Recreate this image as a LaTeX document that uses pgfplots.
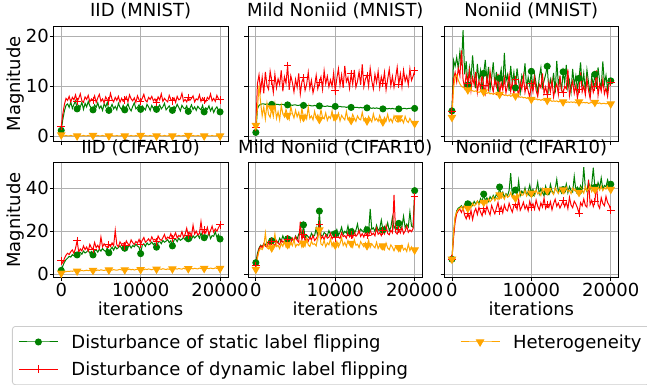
\documentclass[border=0pt]{standalone}
\usepackage{pgfplots}
\pgfplotsset{compat=1.18}
\usepackage{pgfplotstable}
\usepackage{fontspec}
\setmainfont{DejaVu Sans}
\definecolor{mgreen}{HTML}{008000}
\definecolor{morange}{HTML}{FFA500}
\definecolor{gridgray}{HTML}{B0B0B0}
\definecolor{legendgray}{HTML}{CCCCCC}
\newcommand{\fs}{\fontsize{18bp}{21.6bp}\selectfont}

% ---------- IID (MNIST)
\pgfplotstableread[row sep=\\]{y\\
1.2\\3.4\\5.1\\6.2\\6.5\\5.8\\6.9\\5.6\\6.4\\7.1\\
5.5\\6.2\\5.9\\6.8\\5.4\\6.6\\5.9\\7.0\\6.1\\5.7\\
5.3\\6.3\\5.8\\6.7\\5.6\\6.1\\5.2\\6.5\\5.9\\6.8\\
5.2\\5.7\\6.4\\5.5\\6.0\\5.3\\6.6\\5.8\\5.4\\6.2\\
5.3\\5.9\\6.5\\5.6\\5.1\\6.0\\6.7\\5.5\\5.8\\6.3\\
5.4\\6.1\\5.7\\5.3\\6.4\\5.9\\5.2\\6.2\\5.6\\6.0\\
5.4\\5.8\\6.3\\5.5\\5.9\\6.6\\5.3\\5.7\\6.1\\5.4\\
5.2\\6.0\\5.6\\6.4\\5.8\\5.1\\6.2\\5.7\\5.5\\6.1\\
5.0\\5.6\\6.3\\5.4\\5.9\\5.2\\6.0\\5.6\\5.3\\6.2\\
4.9\\5.7\\5.4\\6.1\\5.1\\5.8\\4.8\\5.5\\5.9\\5.2\\
4.9\\}\aS
\pgfplotstableread[row sep=\\]{y\\
2.0\\4.5\\6.4\\7.6\\7.2\\8.0\\6.9\\7.8\\7.3\\8.3\\
7.0\\7.6\\8.5\\7.1\\6.8\\7.9\\7.4\\8.2\\6.9\\7.5\\
7.2\\8.1\\6.8\\7.7\\8.4\\7.0\\7.5\\6.7\\7.9\\7.3\\
7.1\\8.6\\7.4\\6.9\\7.8\\7.2\\8.0\\6.8\\7.6\\7.0\\
7.3\\7.9\\6.9\\8.3\\7.5\\7.1\\7.7\\6.8\\8.1\\7.3\\
7.0\\7.6\\8.4\\7.2\\6.9\\7.8\\7.4\\8.0\\7.1\\7.5\\
6.8\\7.9\\7.3\\8.5\\7.0\\7.6\\7.2\\6.9\\8.2\\7.4\\
7.1\\7.7\\6.8\\8.0\\7.3\\7.5\\8.6\\7.0\\7.4\\6.9\\
7.8\\7.2\\7.6\\8.1\\6.9\\7.5\\7.3\\8.3\\7.0\\7.7\\
7.2\\6.9\\7.8\\7.4\\8.5\\7.1\\7.6\\7.0\\8.2\\7.5\\
7.3\\}\aD
\pgfplotstableread[row sep=\\]{y\\
0.3\\0.2\\0.1\\0.2\\0.1\\0.1\\0.2\\0.1\\0.1\\0.2\\
0.1\\0.2\\0.1\\0.1\\0.2\\0.1\\0.1\\0.2\\0.1\\0.1\\
0.2\\0.1\\0.1\\0.2\\0.1\\0.1\\0.2\\0.1\\0.1\\0.2\\
0.1\\0.1\\0.2\\0.1\\0.1\\0.2\\0.1\\0.1\\0.2\\0.1\\
0.1\\0.2\\0.1\\0.1\\0.2\\0.1\\0.1\\0.2\\0.1\\0.1\\
0.2\\0.1\\0.1\\0.2\\0.1\\0.1\\0.2\\0.1\\0.1\\0.2\\
0.1\\0.1\\0.2\\0.1\\0.1\\0.2\\0.1\\0.1\\0.2\\0.1\\
0.1\\0.2\\0.1\\0.1\\0.2\\0.1\\0.1\\0.2\\0.1\\0.1\\
0.2\\0.1\\0.1\\0.2\\0.1\\0.1\\0.2\\0.1\\0.1\\0.2\\
0.1\\0.1\\0.2\\0.1\\0.1\\0.2\\0.1\\0.1\\0.2\\0.1\\
0.1\\}\aH

% ---------- Mild Noniid (MNIST)
\pgfplotstableread[row sep=\\]{y\\
0.8\\5.5\\6.2\\6.4\\6.5\\6.5\\6.4\\6.5\\6.4\\6.5\\
6.4\\6.4\\6.5\\6.4\\6.4\\6.3\\6.4\\6.4\\6.3\\6.4\\
6.3\\6.3\\6.3\\6.2\\6.3\\6.3\\6.2\\6.2\\6.3\\6.2\\
6.2\\6.2\\6.1\\6.2\\6.2\\6.1\\6.1\\6.2\\6.1\\6.1\\
6.1\\6.0\\6.1\\6.0\\6.0\\6.1\\6.0\\6.0\\5.9\\6.0\\
6.0\\5.9\\5.9\\6.0\\5.9\\5.9\\5.9\\5.8\\5.9\\5.8\\
5.8\\5.9\\5.8\\5.8\\5.8\\5.7\\5.8\\5.7\\5.8\\5.7\\
5.7\\5.7\\5.7\\5.6\\5.7\\5.6\\5.7\\5.6\\5.6\\5.7\\
5.5\\5.6\\5.6\\5.5\\5.6\\5.5\\5.6\\5.5\\5.5\\5.6\\
5.5\\5.6\\5.5\\5.6\\5.6\\5.5\\5.6\\5.6\\5.7\\5.6\\
5.6\\}\bS
\pgfplotstableread[row sep=\\]{y\\
1.8\\10.5\\12.3\\9.1\\11.8\\8.6\\12.9\\10.2\\9.4\\13.0\\
11.1\\8.8\\12.4\\9.7\\11.5\\10.3\\13.2\\9.0\\11.9\\10.6\\
14.2\\9.3\\12.1\\10.8\\8.9\\11.4\\9.8\\12.6\\8.5\\10.9\\
11.7\\9.2\\10.4\\12.8\\9.6\\11.2\\8.7\\10.1\\12.2\\9.5\\
10.8\\11.9\\9.4\\13.1\\10.5\\12.0\\9.9\\11.3\\10.0\\12.7\\
9.1\\11.6\\13.5\\10.2\\12.3\\9.7\\14.1\\10.9\\11.8\\9.6\\
12.5\\10.4\\13.3\\9.8\\11.0\\12.9\\10.3\\14.4\\9.9\\11.5\\
12.2\\10.0\\13.6\\11.1\\9.5\\12.4\\10.7\\13.0\\9.7\\11.9\\
10.6\\12.8\\9.3\\11.4\\13.4\\10.1\\12.0\\9.8\\11.7\\13.8\\
10.4\\12.5\\9.9\\13.2\\11.0\\12.1\\10.3\\13.5\\11.2\\12.0\\
13.1\\}\bD
\pgfplotstableread[row sep=\\]{y\\
2.2\\5.5\\10.2\\6.8\\4.1\\5.9\\3.5\\6.6\\4.4\\3.8\\
5.7\\4.0\\6.5\\3.6\\4.9\\3.3\\6.2\\4.5\\3.9\\5.4\\
4.2\\3.4\\6.0\\4.6\\3.7\\5.2\\3.9\\4.8\\3.2\\5.6\\
3.8\\4.4\\3.5\\5.9\\3.6\\4.1\\3.3\\5.0\\3.7\\4.3\\
3.4\\5.3\\3.8\\3.5\\4.7\\3.2\\4.0\\3.6\\5.1\\3.3\\
3.9\\3.5\\4.6\\3.1\\4.2\\3.7\\3.3\\5.0\\3.4\\3.8\\
3.2\\4.4\\3.6\\3.0\\4.1\\3.5\\3.3\\4.8\\3.2\\3.7\\
3.1\\4.0\\3.4\\2.9\\4.5\\3.2\\3.6\\3.0\\4.2\\3.3\\
2.9\\3.8\\3.1\\4.4\\3.0\\3.5\\2.8\\4.1\\3.2\\2.9\\
3.7\\3.0\\3.4\\2.7\\4.0\\3.1\\2.8\\3.6\\3.0\\2.9\\
2.6\\}\bH

% ---------- Noniid (MNIST)
\pgfplotstableread[row sep=\\]{y\\
5.1\\15.2\\14.0\\15.8\\13.5\\16.9\\14.2\\21.2\\12.4\\15.0\\
10.3\\13.8\\11.5\\16.2\\12.0\\9.6\\14.5\\11.2\\13.1\\8.9\\
12.6\\15.3\\10.8\\13.9\\9.4\\11.7\\14.8\\10.2\\12.9\\8.4\\
11.6\\13.4\\9.8\\16.7\\11.0\\12.3\\9.1\\14.1\\10.5\\12.8\\
9.7\\13.6\\10.9\\8.8\\12.2\\11.3\\14.6\\9.5\\11.8\\10.1\\
13.0\\9.3\\12.5\\10.6\\8.7\\11.9\\13.7\\9.9\\11.1\\12.4\\
14.0\\9.2\\11.4\\10.0\\12.7\\8.6\\15.1\\10.4\\11.8\\9.0\\
12.9\\10.7\\14.3\\9.6\\11.2\\8.9\\13.5\\10.3\\12.1\\9.4\\
11.6\\14.8\\10.0\\12.6\\9.1\\13.3\\10.8\\8.5\\12.0\\10.2\\
12.4\\9.5\\13.8\\11.0\\9.7\\15.0\\10.5\\12.2\\9.3\\11.5\\
11.1\\}\cS
\pgfplotstableread[row sep=\\]{y\\
5.0\\11.5\\12.8\\10.9\\13.6\\12.1\\17.2\\11.3\\9.8\\12.4\\
10.6\\13.1\\9.2\\11.8\\10.3\\12.9\\8.8\\11.0\\9.7\\12.2\\
10.1\\8.6\\11.9\\9.5\\13.0\\10.4\\8.9\\11.3\\9.9\\12.5\\
8.4\\10.7\\9.3\\11.6\\8.7\\10.2\\12.3\\9.0\\10.8\\8.5\\
11.4\\9.6\\8.2\\10.9\\9.4\\12.0\\8.8\\10.3\\9.1\\7.8\\
10.6\\8.9\\11.7\\9.2\\8.0\\10.4\\9.7\\12.6\\8.6\\9.9\\
8.3\\10.8\\9.0\\11.2\\7.9\\9.6\\10.5\\8.4\\12.1\\9.3\\
8.7\\10.0\\9.5\\13.4\\8.1\\9.8\\11.0\\8.6\\10.2\\7.7\\
9.4\\12.8\\8.9\\10.1\\8.3\\11.5\\9.2\\7.6\\10.7\\8.8\\
9.9\\13.2\\8.2\\10.4\\9.0\\11.3\\8.5\\9.7\\8.0\\10.6\\
10.8\\}\cD
\pgfplotstableread[row sep=\\]{y\\
3.8\\9.5\\12.0\\12.3\\11.2\\10.5\\10.0\\9.8\\9.6\\9.4\\
9.3\\9.2\\9.3\\9.1\\9.0\\9.1\\8.9\\8.8\\9.0\\8.8\\
8.9\\8.7\\8.6\\8.8\\8.5\\8.6\\8.4\\8.6\\8.3\\8.5\\
8.4\\8.3\\8.4\\8.2\\8.3\\8.1\\8.3\\8.0\\8.2\\8.0\\
8.1\\7.9\\8.0\\7.8\\7.9\\7.7\\7.8\\7.6\\7.7\\7.5\\
7.4\\7.6\\7.4\\7.5\\7.3\\7.4\\7.2\\7.4\\7.2\\7.3\\
7.2\\7.1\\7.2\\7.0\\7.1\\7.0\\7.1\\6.9\\7.0\\6.9\\
6.9\\7.0\\6.8\\6.9\\6.8\\6.9\\6.8\\6.9\\6.7\\6.8\\
6.9\\6.8\\6.7\\6.8\\6.7\\6.8\\6.6\\6.7\\6.8\\6.6\\
6.8\\6.7\\6.6\\6.7\\6.5\\6.6\\6.6\\6.5\\6.6\\6.5\\
6.5\\}\cH

% ---------- IID (CIFAR10)
\pgfplotstableread[row sep=\\]{y\\
1.8\\3.9\\5.6\\6.8\\7.5\\8.3\\8.0\\9.1\\8.6\\9.4\\
9.0\\9.7\\10.2\\9.3\\10.8\\9.9\\10.4\\11.2\\9.8\\10.6\\
9.0\\10.9\\11.4\\10.3\\11.7\\10.8\\12.0\\11.1\\10.6\\12.3\\
10.0\\11.5\\12.6\\11.2\\12.9\\11.8\\12.4\\13.3\\11.9\\12.7\\
12.1\\13.0\\12.5\\13.6\\12.2\\13.4\\12.8\\14.0\\13.1\\12.6\\
9.6\\13.5\\14.2\\13.0\\14.6\\13.7\\14.1\\15.0\\13.8\\14.5\\
12.6\\14.8\\15.3\\14.2\\15.7\\14.9\\15.4\\16.1\\14.7\\15.6\\
13.2\\15.9\\16.4\\15.2\\16.8\\15.8\\16.3\\17.2\\16.0\\16.7\\
16.5\\17.4\\16.1\\17.9\\16.9\\17.6\\18.3\\16.8\\19.1\\17.5\\
17.0\\18.2\\17.3\\19.4\\16.6\\18.0\\17.7\\19.8\\17.2\\18.5\\
16.4\\}\dS
\pgfplotstableread[row sep=\\]{y\\
6.3\\5.2\\7.4\\8.9\\9.8\\9.2\\10.5\\11.3\\9.7\\12.1\\
15.6\\10.4\\11.8\\10.9\\13.2\\11.5\\12.7\\10.8\\13.9\\12.3\\
11.6\\14.8\\12.4\\13.5\\11.9\\17.3\\12.8\\14.2\\13.1\\12.5\\
13.8\\12.9\\14.6\\13.3\\20.4\\13.7\\12.8\\15.1\\13.9\\14.4\\
13.2\\15.5\\14.1\\13.6\\16.0\\14.7\\13.9\\15.3\\14.5\\16.2\\
14.0\\15.8\\17.1\\14.9\\15.6\\16.5\\15.2\\17.4\\15.9\\16.3\\
15.1\\17.8\\16.4\\15.7\\17.0\\18.5\\16.2\\17.3\\16.8\\18.9\\
16.6\\17.7\\19.3\\16.9\\18.1\\17.5\\19.8\\17.2\\18.6\\21.4\\
18.0\\19.5\\17.8\\22.8\\18.7\\20.1\\18.3\\19.0\\24.5\\18.9\\
20.6\\19.2\\21.8\\18.5\\20.3\\22.4\\19.6\\21.1\\20.0\\21.7\\
23.0\\}\dD
\pgfplotstableread[row sep=\\]{y\\
0.5\\0.9\\1.1\\1.2\\1.4\\1.3\\1.5\\1.4\\1.6\\1.5\\
1.5\\1.7\\1.6\\1.8\\1.6\\1.7\\1.9\\1.7\\1.8\\1.6\\
1.8\\1.9\\1.7\\2.0\\1.8\\2.1\\1.9\\1.8\\2.0\\1.9\\
2.0\\2.1\\1.9\\2.2\\2.0\\1.9\\2.1\\2.3\\2.0\\2.2\\
2.1\\2.0\\2.2\\2.4\\2.1\\2.3\\2.0\\2.2\\2.4\\2.1\\
2.2\\2.3\\2.1\\2.4\\2.2\\2.5\\2.3\\2.1\\2.4\\2.3\\
2.4\\2.2\\2.5\\2.3\\2.6\\2.4\\2.2\\2.5\\2.3\\2.6\\
2.5\\2.3\\2.6\\2.4\\2.7\\2.5\\2.4\\2.8\\2.5\\2.6\\
2.6\\2.4\\2.7\\2.5\\2.8\\2.6\\2.5\\2.9\\2.6\\2.7\\
2.7\\2.5\\2.8\\2.6\\2.9\\2.7\\2.6\\3.0\\2.7\\2.8\\
2.7\\}\dH

% ---------- Mild Noniid (CIFAR10)
\pgfplotstableread[row sep=\\]{y\\
5.4\\9.8\\12.2\\13.5\\12.8\\14.1\\13.6\\15.0\\14.4\\13.9\\
15.6\\14.8\\16.2\\15.1\\14.6\\16.8\\15.4\\17.9\\16.0\\15.3\\
16.5\\15.7\\17.2\\16.1\\15.5\\17.8\\16.4\\18.6\\20.2\\17.1\\
23.0\\16.9\\18.3\\17.4\\16.6\\19.1\\17.7\\18.0\\21.5\\17.3\\
29.4\\18.2\\17.6\\19.4\\18.8\\17.9\\20.3\\18.5\\19.7\\17.8\\
18.9\\20.8\\18.1\\19.5\\21.9\\18.6\\20.0\\19.2\\22.5\\18.7\\
19.8\\21.2\\19.0\\20.5\\23.4\\19.3\\21.0\\20.2\\19.6\\22.1\\
20.7\\19.4\\30.4\\20.9\\21.6\\19.9\\22.8\\20.4\\21.3\\25.2\\
20.6\\22.3\\21.1\\24.0\\20.3\\21.8\\26.5\\21.4\\22.6\\20.8\\
23.7\\21.5\\22.2\\27.0\\21.7\\23.3\\22.0\\29.0\\22.4\\21.9\\
38.9\\}\eS
\pgfplotstableread[row sep=\\]{y\\
3.9\\8.5\\11.6\\13.2\\12.4\\14.3\\13.1\\12.7\\14.8\\13.6\\
15.2\\14.0\\13.3\\15.7\\14.5\\13.8\\16.1\\14.9\\15.5\\14.2\\
16.4\\15.0\\14.6\\16.8\\15.3\\17.5\\15.8\\14.9\\24.5\\16.2\\
18.7\\15.6\\16.9\\15.4\\17.3\\16.0\\18.1\\15.7\\16.6\\17.9\\
23.3\\16.4\\17.7\\16.1\\18.4\\16.8\\17.2\\19.0\\16.5\\17.8\\
16.9\\18.6\\17.3\\16.7\\19.3\\17.5\\18.0\\16.8\\19.7\\17.4\\
18.2\\17.0\\19.9\\17.7\\18.5\\20.4\\17.6\\18.9\\17.3\\19.5\\
18.1\\17.8\\20.7\\18.3\\19.1\\17.9\\21.5\\18.6\\19.4\\18.0\\
20.2\\18.8\\22.6\\19.0\\18.4\\20.5\\19.3\\36.9\\19.6\\18.7\\
20.9\\19.2\\21.8\\18.9\\20.1\\22.4\\19.5\\20.6\\19.8\\21.2\\
36.1\\}\eD
\pgfplotstableread[row sep=\\]{y\\
2.3\\7.5\\10.8\\12.1\\11.5\\13.2\\19.2\\12.4\\11.8\\13.6\\
12.3\\14.1\\18.8\\12.9\\13.5\\11.9\\14.4\\13.0\\15.6\\12.7\\
13.8\\12.5\\14.7\\13.3\\16.2\\12.8\\14.0\\13.4\\15.1\\12.6\\
14.5\\13.1\\16.8\\13.7\\12.9\\15.3\\13.9\\14.2\\13.2\\17.4\\
20.6\\14.1\\13.5\\15.8\\12.8\\14.6\\13.7\\16.5\\13.0\\14.9\\
13.6\\15.4\\12.7\\14.3\\17.0\\13.4\\14.8\\12.9\\15.7\\13.8\\
14.4\\12.6\\16.1\\13.5\\14.0\\12.4\\15.2\\13.9\\12.8\\14.7\\
13.3\\15.9\\12.5\\14.2\\13.1\\12.3\\14.9\\12.0\\13.6\\11.8\\
13.2\\11.5\\14.5\\12.2\\11.4\\13.7\\12.6\\10.9\\13.0\\11.6\\
12.4\\10.8\\13.4\\11.3\\12.1\\10.6\\14.0\\11.0\\12.7\\10.9\\
11.3\\}\eH

% ---------- Noniid (CIFAR10)
\pgfplotstableread[row sep=\\]{y\\
7.0\\18.5\\26.0\\29.5\\30.8\\31.2\\31.9\\30.5\\32.4\\31.6\\
32.8\\31.5\\33.2\\32.0\\33.9\\32.6\\34.1\\33.0\\35.2\\33.8\\
37.3\\34.2\\35.6\\33.9\\36.1\\34.8\\36.7\\35.2\\37.4\\35.9\\
40.6\\36.3\\38.2\\35.7\\37.5\\36.4\\39.0\\47.0\\36.8\\38.1\\
39.2\\37.0\\43.5\\36.6\\38.7\\37.4\\40.2\\36.9\\38.3\\41.5\\
37.6\\39.5\\36.8\\38.9\\42.8\\37.3\\39.8\\38.0\\36.5\\40.9\\
38.4\\37.2\\41.8\\38.8\\37.5\\39.6\\44.2\\38.1\\40.3\\37.8\\
39.4\\38.6\\42.0\\37.9\\40.8\\39.0\\38.2\\45.6\\39.3\\40.5\\
38.7\\41.2\\39.1\\49.8\\40.0\\38.5\\43.1\\39.7\\41.6\\49.6\\
40.4\\39.2\\42.7\\40.1\\44.8\\39.6\\41.3\\40.7\\43.9\\41.0\\
41.9\\}\fS
\pgfplotstableread[row sep=\\]{y\\
7.0\\17.0\\24.5\\28.2\\29.6\\30.3\\28.8\\30.9\\27.5\\25.8\\
28.4\\26.1\\29.7\\25.5\\28.9\\30.6\\27.8\\31.2\\29.0\\27.2\\
30.5\\28.3\\31.6\\29.4\\27.6\\32.0\\29.9\\28.1\\30.8\\33.4\\
29.2\\31.5\\28.6\\32.3\\30.1\\29.5\\33.0\\30.7\\28.9\\31.9\\
32.6\\30.2\\34.8\\29.8\\31.4\\33.5\\30.4\\32.1\\29.6\\33.9\\
31.0\\32.8\\30.3\\34.5\\31.7\\29.9\\33.2\\31.3\\35.4\\30.6\\
32.5\\31.1\\33.7\\30.0\\32.9\\34.9\\31.6\\33.1\\30.8\\32.4\\
34.2\\31.4\\33.6\\30.5\\35.8\\32.2\\31.0\\34.0\\32.7\\30.9\\
28.4\\33.3\\31.8\\35.0\\32.0\\31.2\\43.9\\32.5\\34.4\\31.5\\
33.8\\42.0\\32.3\\30.7\\35.6\\32.9\\31.9\\36.2\\33.4\\32.1\\
29.8\\}\fD
\pgfplotstableread[row sep=\\]{y\\
7.0\\19.5\\26.8\\29.0\\30.2\\30.7\\31.5\\29.8\\32.0\\30.9\\
30.7\\32.3\\31.1\\33.0\\31.8\\32.5\\34.0\\32.2\\33.6\\32.9\\
33.5\\34.4\\32.8\\35.1\\33.7\\34.6\\36.0\\34.2\\35.5\\34.8\\
36.9\\35.3\\36.5\\34.9\\37.2\\35.8\\36.3\\38.0\\35.6\\36.8\\
35.4\\37.5\\36.1\\38.4\\36.7\\37.0\\39.1\\36.4\\37.8\\36.9\\
37.7\\38.6\\36.8\\39.3\\37.4\\38.1\\36.6\\39.8\\37.9\\38.5\\
38.9\\37.3\\39.6\\38.2\\37.1\\40.2\\38.7\\37.6\\39.4\\38.3\\
39.3\\37.8\\40.5\\38.6\\39.0\\37.5\\40.1\\38.9\\39.7\\38.0\\
38.1\\40.3\\39.2\\37.7\\40.8\\38.8\\39.5\\41.2\\38.4\\39.9\\
39.5\\38.7\\40.6\\39.1\\41.0\\38.9\\40.2\\39.6\\41.4\\40.0\\
39.5\\}\fH

\pgfplotsset{
  sst/.style={mgreen, line width=1bp, mark=*, mark size=3bp, mark repeat=10, mark phase=1},
  dst/.style={red, line width=1bp, mark=+, mark size=3.8bp, mark repeat=10, mark phase=1},
  hst/.style={morange, line width=1bp, mark=triangle*, mark size=4bp, mark repeat=10, mark phase=1, mark options={rotate=180}},
  panel/.style={scale only axis, width=174.7bp, anchor=south west,
    xmin=-1000, xmax=21000, xtick={0,10000,20000}, scaled x ticks=false, scaled y ticks=false,
    grid=major, grid style={line width=0.8bp, gridgray},
    axis line style={line width=0.8bp, black},
    tick align=outside, major tick length=3.5bp,
    tick style={line width=0.8bp, black}, tick pos=left,
    axis background/.style={fill=white},
    tick label style={font=\fs, inner sep=0pt},
    xticklabel style={yshift=-2.2bp},
    yticklabel style={xshift=-0.8bp},
    title style={font=\fs, at={(axis description cs:0.5,1)}, anchor=base, yshift=3.5bp},
    ylabel style={font=\fs, at={(axis description cs:-0.1906,0.5)}, anchor=base},
    xlabel style={font=\fs, at={(axis description cs:0.5,-0.329)}, anchor=base},
  },
  toprow/.style={panel, height=115.7bp, ymin=-1.05, ymax=22.05, ytick={0,10,20}, xticklabels={}},
  botrow/.style={panel, height=114.6bp, ymin=-1.4, ymax=51.9, ytick={0,20,40}, xticklabels={0,10000,20000}, xlabel={iterations}},
}

\begin{document}
\begin{tikzpicture}
\useasboundingbox (0,0) rectangle (647bp,385bp);

\begin{axis}[toprow, at={(53.3bp,243.3bp)}, title={IID (MNIST)}, ylabel={Magnitude}, yticklabels={0,10,20}]
\addplot[sst] table[x expr=\coordindex*200, y=y]{\aS};
\addplot[dst] table[x expr=\coordindex*200, y=y]{\aD};
\addplot[hst] table[x expr=\coordindex*200, y=y]{\aH};
\end{axis}

\begin{axis}[toprow, at={(247.9bp,243.3bp)}, title={Mild Noniid (MNIST)}, yticklabels={}]
\addplot[sst] table[x expr=\coordindex*200, y=y]{\bS};
\addplot[dst] table[x expr=\coordindex*200, y=y]{\bD};
\addplot[hst] table[x expr=\coordindex*200, y=y]{\bH};
\end{axis}

\begin{axis}[toprow, at={(444bp,243.3bp)}, title={Noniid (MNIST)}, yticklabels={}]
\addplot[sst] table[x expr=\coordindex*200, y=y]{\cS};
\addplot[dst] table[x expr=\coordindex*200, y=y]{\cD};
\addplot[hst] table[x expr=\coordindex*200, y=y]{\cH};
\end{axis}

\begin{axis}[botrow, at={(53.3bp,107.7bp)}, title={IID (CIFAR10)}, ylabel={Magnitude}, yticklabels={0,20,40}]
\addplot[sst] table[x expr=\coordindex*200, y=y]{\dS};
\addplot[dst] table[x expr=\coordindex*200, y=y]{\dD};
\addplot[hst] table[x expr=\coordindex*200, y=y]{\dH};
\end{axis}

\begin{axis}[botrow, at={(247.9bp,107.7bp)}, title={Mild Noniid (CIFAR10)}, yticklabels={}]
\addplot[sst] table[x expr=\coordindex*200, y=y]{\eS};
\addplot[dst] table[x expr=\coordindex*200, y=y]{\eD};
\addplot[hst] table[x expr=\coordindex*200, y=y]{\eH};
\end{axis}

\begin{axis}[botrow, at={(444bp,107.7bp)}, title={Noniid (CIFAR10)}, yticklabels={}]
\addplot[sst] table[x expr=\coordindex*200, y=y]{\fS};
\addplot[dst] table[x expr=\coordindex*200, y=y]{\fD};
\addplot[hst] table[x expr=\coordindex*200, y=y]{\fH};
\end{axis}

\begin{axis}[at={(0bp,0bp)}, anchor=south west, scale only axis, width=647bp, height=385bp,
  xmin=0, xmax=1, ymin=0, ymax=1, hide axis,
  legend columns=2, legend cell align=left,
  legend image code/.code={\draw[mark repeat=2,mark phase=2] plot coordinates {(0bp,0bp)(19.5bp,0bp)(39bp,0bp)};},
  legend style={at={(0.018547,0.153247)}, anchor=north west, draw=legendgray, line width=0.8bp,
    rounded corners=3bp, fill=white, inner xsep=6bp, inner ysep=6bp, row sep=8bp,
    font=\fs, nodes={inner sep=2bp},
    /tikz/every odd column/.append style={column sep=11bp},
    /tikz/every even column/.append style={column sep=50bp}}]
\addlegendimage{sst}
\addlegendentry{Disturbance of static label flipping}
\addlegendimage{hst}
\addlegendentry{Heterogeneity}
\addlegendimage{dst}
\addlegendentry{Disturbance of dynamic label flipping}
\end{axis}
\end{tikzpicture}
\end{document}
